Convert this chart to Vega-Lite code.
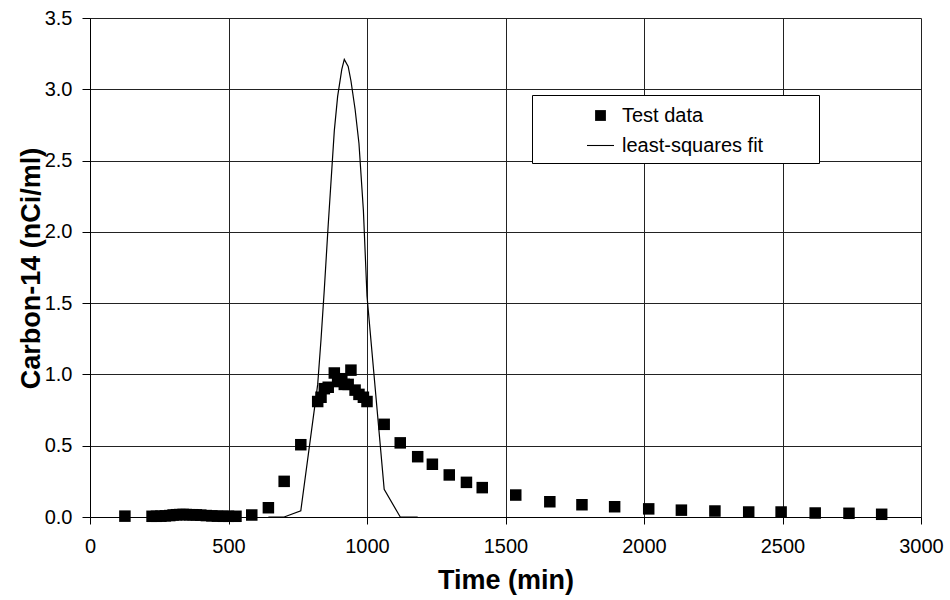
{
  "$schema": "https://vega.github.io/schema/vega-lite/v6.json",
  "width": 831,
  "height": 499,
  "autosize": {"type": "none"},
  "padding": {"left": 90, "top": 18, "right": 29, "bottom": 83},
  "background": "white",
  "config": {"view": {"stroke": null}, "font": "Liberation Sans"},
  "datasets": {
    "test": [
      {"t": 126, "c": 0.006}, {"t": 224, "c": 0.005}, {"t": 240, "c": 0.005}, {"t": 256, "c": 0.006},
      {"t": 272, "c": 0.008}, {"t": 288, "c": 0.010}, {"t": 300, "c": 0.014}, {"t": 312, "c": 0.016},
      {"t": 324, "c": 0.017}, {"t": 336, "c": 0.018}, {"t": 348, "c": 0.017}, {"t": 360, "c": 0.016},
      {"t": 372, "c": 0.016}, {"t": 384, "c": 0.015}, {"t": 400, "c": 0.013}, {"t": 420, "c": 0.010},
      {"t": 440, "c": 0.008}, {"t": 460, "c": 0.006}, {"t": 480, "c": 0.005}, {"t": 500, "c": 0.005},
      {"t": 527, "c": 0.005}, {"t": 584, "c": 0.014}, {"t": 644, "c": 0.065}, {"t": 701, "c": 0.25},
      {"t": 761, "c": 0.507}, {"t": 822, "c": 0.81}, {"t": 834, "c": 0.84}, {"t": 846, "c": 0.90},
      {"t": 860, "c": 0.91}, {"t": 882, "c": 1.01}, {"t": 894, "c": 0.95}, {"t": 909, "c": 0.97},
      {"t": 918, "c": 0.93}, {"t": 932, "c": 0.93}, {"t": 942, "c": 1.03}, {"t": 957, "c": 0.89},
      {"t": 971, "c": 0.86}, {"t": 987, "c": 0.84}, {"t": 1000, "c": 0.81}, {"t": 1062, "c": 0.65},
      {"t": 1120, "c": 0.52}, {"t": 1183, "c": 0.423}, {"t": 1236, "c": 0.37}, {"t": 1297, "c": 0.295},
      {"t": 1359, "c": 0.243}, {"t": 1416, "c": 0.206}, {"t": 1537, "c": 0.154}, {"t": 1660, "c": 0.107},
      {"t": 1776, "c": 0.086}, {"t": 1894, "c": 0.072}, {"t": 2017, "c": 0.057}, {"t": 2135, "c": 0.048},
      {"t": 2256, "c": 0.042}, {"t": 2378, "c": 0.035}, {"t": 2495, "c": 0.035}, {"t": 2618, "c": 0.028},
      {"t": 2740, "c": 0.026}, {"t": 2858, "c": 0.019}
    ],
    "fit": [
      {"t": 644, "c": 0}, {"t": 701, "c": 0.0}, {"t": 761, "c": 0.044}, {"t": 822, "c": 0.93},
      {"t": 834, "c": 1.245}, {"t": 846, "c": 1.6}, {"t": 860, "c": 2.05}, {"t": 882, "c": 2.71},
      {"t": 894, "c": 2.95}, {"t": 909, "c": 3.14}, {"t": 918, "c": 3.21}, {"t": 932, "c": 3.16},
      {"t": 942, "c": 3.06}, {"t": 957, "c": 2.86}, {"t": 971, "c": 2.62}, {"t": 987, "c": 2.15},
      {"t": 1000, "c": 1.55}, {"t": 1062, "c": 0.194}, {"t": 1120, "c": 0.0}, {"t": 1183, "c": 0.0}
    ]
  },
  "encoding": {
    "x": {
      "field": "t", "type": "quantitative",
      "scale": {"domain": [0, 3000], "nice": false, "zero": false},
      "axis": {
        "values": [0, 500, 1000, 1500, 2000, 2500, 3000], "format": "d",
        "title": "Time (min)", "grid": true, "gridColor": "#222", "gridWidth": 1, "gridOpacity": 1,
        "domainColor": "#000", "domainWidth": 1, "tickColor": "#000", "tickSize": 7, "tickWidth": 1,
        "labelFontSize": 20, "labelColor": "#000", "labelPadding": 12, "labelFlush": false, "labelOverlap": false,
        "titleFontSize": 27, "titleFontWeight": "bold", "titleColor": "#000",
        "titleBaseline": "alphabetic", "titleY": 71, "titleX": 415.5
      }
    },
    "y": {
      "field": "c", "type": "quantitative",
      "scale": {"domain": [0, 3.5], "nice": false},
      "axis": {
        "values": [0, 0.5, 1, 1.5, 2, 2.5, 3, 3.5], "format": ".1f",
        "title": "Carbon-14 (nCi/ml)", "grid": true, "gridColor": "#222", "gridWidth": 1, "gridOpacity": 1,
        "domainColor": "#000", "domainWidth": 1, "tickColor": "#000", "tickSize": 8, "tickWidth": 1,
        "labelFontSize": 20, "labelColor": "#000", "labelPadding": 10, "labelOverlap": false,
        "titleFontSize": 27, "titleFontWeight": "bold", "titleColor": "#000",
        "titleBaseline": "alphabetic", "titleAngle": -90, "titleX": -51, "titleY": 250
      }
    }
  },
  "layer": [
    {
      "data": {"name": "fit"},
      "mark": {"type": "line", "color": "black", "strokeWidth": 1.2}
    },
    {
      "data": {"name": "test"},
      "mark": {"type": "point", "filled": true, "color": "black", "opacity": 1, "size": 827},
      "encoding": {
        "shape": {
          "datum": "Test data",
          "scale": {
            "domain": ["Test data", "least-squares fit"],
            "range": ["M-0.4,-0.4H0.4V0.4H-0.4Z", "M-1,-0.04H1V0.04H-1Z"]
          },
          "legend": {
            "orient": "none", "legendX": 442, "legendY": 77,
            "title": "\u00a0", "titleOrient": "right", "titleFontSize": 1, "titlePadding": 49,
            "padding": 7, "strokeColor": "black", "fillColor": "white", "cornerRadius": 0,
            "labelFont": "Liberation Sans", "labelFontSize": 20, "labelColor": "black",
            "symbolSize": 729, "symbolFillColor": "black", "symbolStrokeColor": "black",
            "symbolStrokeWidth": 0, "symbolOpacity": 1,
            "symbolOffset": 48, "labelOffset": 8, "rowPadding": 6
          }
        }
      }
    }
  ]
}
